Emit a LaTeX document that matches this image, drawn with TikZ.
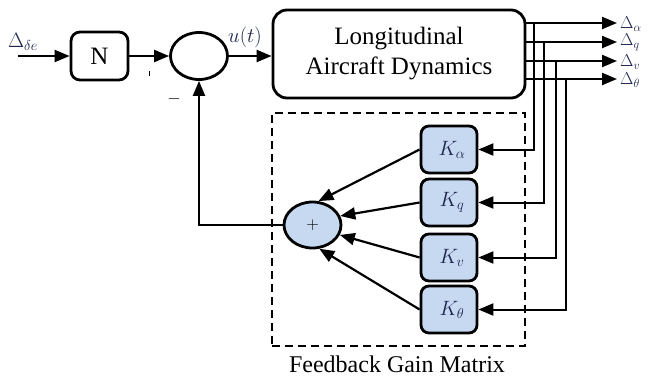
\documentclass[tikz,border=0pt]{standalone}
\usepackage{fontspec}
\setmainfont{Liberation Serif}
\usetikzlibrary{arrows.meta,shapes.geometric}
\definecolor{gainfill}{RGB}{198,217,241}
\definecolor{mathink}{RGB}{30,38,80}
\begin{document}
\begin{tikzpicture}[x=1pt,y=-1pt,
  arr/.style={line width=2.2pt,-{Triangle[length=15pt,width=12pt]}},
  fb/.style={line width=2pt,-{Triangle[length=15pt,width=12pt]}},
  blk/.style={draw,line width=2.8pt,rounded corners=9pt,inner sep=0pt},
  gain/.style={blk,fill=gainfill,minimum width=56pt,minimum height=47pt,rounded corners=8pt,
    text=mathink,font=\fontsize{21}{21}\selectfont},
  lab/.style={text=mathink,font=\fontsize{21}{21}\selectfont,inner sep=0pt},
  outlab/.style={lab,anchor=west,font=\fontsize{17}{17}\selectfont}]
\useasboundingbox (0,0) rectangle (651,378);

% forward path
\coordinate (src) at (18,56);
\node[blk,minimum width=57pt,minimum height=48pt,font=\fontsize{25}{25}\selectfont] (N) at (99.5,56) {N};
\node[draw,ellipse,line width=2.8pt,minimum width=57pt,minimum height=47pt,inner sep=0pt] (sum) at (199,56) {};
\node[blk,rounded corners=14pt,minimum width=252pt,minimum height=88pt,align=center,
  font=\fontsize{25}{30}\selectfont] (plant) at (399,54) {Longitudinal\\Aircraft Dynamics};

\draw[arr] (src) -- (N.west);
\draw[arr] (N.east) -- (sum.west);
\draw[arr] (sum.east) -- (sum.east -| plant.west);

\node[lab,anchor=west] (inlab) at (8,42) {$\Delta_{\delta e}$};
\node[lab,font=\fontsize{22}{22}\selectfont] (ulab) at (245,37) {$u(t)$};
\node[font=\fontsize{18}{18}\selectfont] (minus) at (174,99) {$-$};
\draw[line width=0.9pt] (149,71) -- (149,76);

% state outputs
\coordinate (o1) at (617,23);
\coordinate (o2) at (617,42);
\coordinate (o3) at (617,61);
\coordinate (o4) at (617,79);
\draw[arr] (plant.east |- o1) -- (o1);
\draw[arr] (plant.east |- o2) -- (o2);
\draw[arr] (plant.east |- o3) -- (o3);
\draw[arr] (plant.east |- o4) -- (o4);
\node[outlab] (l1) at (620,24) {$\Delta_\alpha$};
\node[outlab] (l2) at (620,42) {$\Delta_q$};
\node[outlab] (l3) at (620,62) {$\Delta_v$};
\node[outlab] (l4) at (620,80) {$\Delta_\theta$};

% feedback gain matrix
\node[draw,line width=2.8pt,dash pattern=on 8pt off 5pt,minimum width=253pt,minimum height=233pt,inner sep=0pt]
  (fgm) at (398.5,229.5) {};
\node[anchor=base,font=\fontsize{24}{24}\selectfont] (fgmlab) at (397,372) {Feedback Gain Matrix};

\node[gain] (K1) at (449,149.5) {\hspace{6pt}$K_\alpha$};
\node[gain] (K2) at (449,202.5) {\hspace{6pt}$K_q$};
\node[gain] (K3) at (449,257.5) {\hspace{6pt}$K_v$};
\node[gain] (K4) at (449,309.5) {\hspace{6pt}$K_\theta$};

\node[draw,ellipse,fill=gainfill,line width=2.8pt,minimum width=57pt,minimum height=46pt,inner sep=0pt,
  font=\fontsize{18}{18}\selectfont] (plus) at (312.5,225) {\raisebox{-4pt}{$+$}};

% taps from the outputs into the gains
\coordinate (t1) at (534,23);
\coordinate (t2) at (544,42);
\coordinate (t3) at (556,61);
\coordinate (t4) at (566,79);
\draw[fb] (t1) |- (K1.east);
\draw[fb] (t2) |- (K2.east);
\draw[fb] (t3) |- (K3.east);
\draw[fb] (t4) |- (K4.east);

% gains into the summer
\draw[arr] (K1.west) -- (plus.76);
\draw[arr] (K2.west) -- (plus.18);
\draw[arr] (K3.west) -- (plus.-20);
\draw[arr] (K4.west) -- (plus.-74);

% feedback to the summing junction
\draw[arr] (plus.west) -| (sum.south);
\end{tikzpicture}
\end{document}
